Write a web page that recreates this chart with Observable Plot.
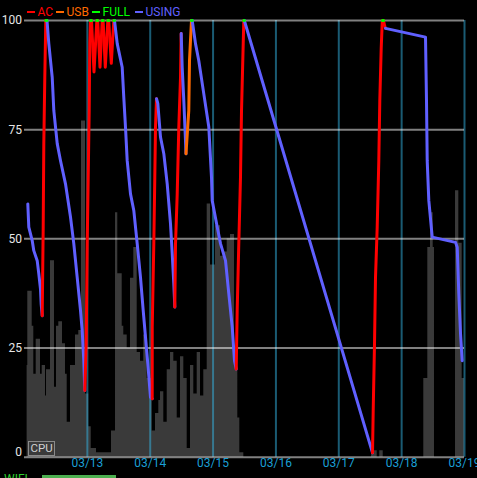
<!DOCTYPE html>
<html><head><meta charset="utf-8">
<script src="https://cdn.jsdelivr.net/npm/d3@7"></script>
<script src="https://cdn.jsdelivr.net/npm/@observablehq/plot@0.6"></script>
<style>
html,body{margin:0;padding:0;background:#000;overflow:hidden;}
#wrap{position:relative;width:477px;height:478px;overflow:hidden;}
.dash{position:absolute;height:2px;width:8px;top:11px;}
#cpu{position:absolute;left:28px;top:441px;width:27px;height:15px;border:1px solid #8a8a8a;color:#d0d0d0;font:11.5px Roboto;line-height:13px;text-align:center;box-sizing:border-box;}
#wifi{position:absolute;left:4px;top:472px;color:#2fd02f;font:12px Roboto;line-height:14px;}
#wifibar{position:absolute;left:42px;top:475px;width:74px;height:5px;background:#4caf50;}
</style></head><body><div id="wrap"></div>
<script>
// ---- data ----
// time in hours since 03/12 00:00
const cpuHour = [1.0,1.26,2.94,3.55,4.47,6.11,6.76,8.02,8.40,9.93,11.45,12.22,13.10,14.51,15.65,16.30,17.56,19.47,20.73,21.76,23.29,24.55,25.47,27.49,
  33.22,34.75,35.62,37.30,37.91,39.21,40.47,41.73,43.03,44.29,45.55,46.85,48.76,50.02,51.28,51.93,53.19,54.49,55.75,57.01,58.31,59.57,60.83,62.12,63.38,64.64,65.94,67.20,68.46,69.76,71.02,72.93,74.84,76.10,77.40,78.66,80.18,81.44,82.21,83.74,
  132.5,134.67,135.66,136.96,152.46,153.99,155.02,156.05,156.54,164.57,165.83,167.12,168];
const cpuLoad = [21,38,30,19,27,19,21,14,20,45,16,30,31,26,19,8,21,28,29,77,14.5,7,2,1,
  6,56,42,30,28,25,41,48,24,22,28,18,6,10,13,15,8,20,24,22,9,23,18,2,21,14.5,24,14,20,58,44,53,46,47,50,51,23,9,1,0,
  1.5,0,1.5,0,18,48,56,48,0,61,49,18,18];

const batteryHour = [
  1.26,1.64,2.94,3.55,4.85,5.46,6.11,6.38,
  6.76,7.14,7.37,7.75,
  8.13,
  8.59,9.28,10.58,11.19,12.49,13.75,15.65,17.56,18.82,20.12,21.38,22.03,22.64,
  23.02,23.56,23.94,24.32,24.70,24.93,
  25.20, 25.58,26.54, 27.61, 27.95,28.83, 29.67, 30.01,30.85, 31.81, 32.15,33.14, 34.10,
  34.36,35.40,37.30,37.91,38.56,39.21,40.47,41.73,43.03,44.29,45.32,46.20,47.08,48.11,
  48.76,48.77,49.37,49.75,50.02,
  50.40,50.90,51.93,53.19,54.49,55.75,56.40,57.01,
  57.39,57.66,58.31,58.92,59.57,
  59.83,60.21,60.82,61.47,
  61.66,62.73,63.00,
  63.76,
  64.03,65.29,66.55,68.46,70.37,71.40,71.67,73.58,74.84,76.75,78.01,79.31,80.18,
  80.83,81.21,81.82,82.47,82.86,83.51,
  83.74,
  83.93,
  132.88,133.14,133.64,134.02,134.67,135.28,135.66,136.20,136.58,
  136.69,
  137.08,137.5,
  137.84,153.11,153.49,153.76,154.37,155.67,164.57,165.22,165.83,166.48,167.12];
const batteryLevel = [
  58,52.7,49.6,47.3,45,42,38.5,35,
  32.4,52.7,71.8,87,
  100,
  100,94.7,87,79.4,71.8,67.9,62.6,55,48.9,41.2,33.6,29,22.1,
  15.3,26,48.9,64.1,79.4,94.7,
  100, 100,88.2, 100, 100,89.3, 100, 100,89.3, 100, 100,90.2, 100,
  100,94.7,89.3,82.4,75.6,67.9,60.3,56.5,48.9,41.2,33.6,27.5,21.4,13.7,
  13.4,29.8,48.9,64.1,75.6,
  82.1,81,73.3,69.5,62.6,53.4,46.6,39.7,
  34.4,48.9,60.3,75.6,87,
  97,89.3,81.7,72.5,
  69.5,79.4,90.8,
  100,
  100,94.7,90.8,83.2,75.6,64.1,58.8,52.7,48.9,45,37.4,29.8,22.1,
  20.2,33.6,48.9,64.1,79.4,94.7,
  100,
  100,
  1,10.7,26,41.2,52.7,67.9,81.7,93.7,99.5,
  100,
  100,98.8,
  98.2,96.2,81.7,67.9,58.8,50.4,49.2,48.1,37.4,28.3,22.1];
// state of the segment that starts at each point: U=USING A=AC B=USB F=FULL
const batteryState = (
  "UUUUUUUU AAAA F UUUUUUUUUUUUU AAAAAA F AA F AA F AA F AA F UUUUUUUUUUUUUU AAAAA UUUUUUUU AAAAA UUUU BBB F " +
  "UUUUUUUUUUUUU AAAAAA F U AAAAAAAAA F AA UUUUUUUUUUU").replace(/ /g, "").split("");

const stateNames = {A: "AC", B: "USB", F: "FULL", U: "USING"};
const legendLabels = ["AC", "USB", "FULL", "USING"];
const legendColors = ["#ff0000", "#ff6a00", "#00ff00", "#6060ff"];
const yTicks = [0, 25, 50, 75, 100];
const xTickDays = [13, 14, 15, 16, 17, 18, 19];

// ---- build ----
const start = new Date(2014, 2, 12);
const end = new Date(2014, 2, 19);
const toDate = h => new Date(start.getTime() + h * 3600e3);
const xTicks = xTickDays.map(d => new Date(2014, 2, d));

const cpuRows = cpuHour.map((h, i) => ({t: toDate(h), v: cpuLoad[i]}));

const lineRows = [];
let run = 0;
for (let i = 0; i < batteryHour.length - 1; i++) {
  const s = batteryState[i];
  if (i > 0 && s !== batteryState[i - 1]) run++;
  lineRows.push({t: toDate(batteryHour[i]), v: batteryLevel[i], s: stateNames[s], run});
  if (i === batteryHour.length - 2 || batteryState[i + 1] !== s) {
    lineRows.push({t: toDate(batteryHour[i + 1]), v: batteryLevel[i + 1], s: stateNames[s], run});
  }
}
const fullRows = lineRows.filter(r => r.s === "FULL");
const otherRows = lineRows.filter(r => r.s !== "FULL");

const fmt = d3.timeFormat("%m/%d");
const legendX = [37, 66, 102, 145];
const dashX = [27, 56, 92, 135];

const chart = Plot.plot({
  width: 477, height: 474,
  marginTop: 20, marginBottom: 17.3, marginLeft: 24, marginRight: 13,
  style: {background: "#000", fontFamily: "Roboto", fontSize: "12px", color: "#e0e0e0"},
  x: {type: "time", domain: [start, end], axis: null},
  y: {domain: [0, 100], axis: null},
  color: {domain: legendLabels, range: legendColors},
  marks: [
    Plot.areaY(cpuRows, {x: "t", y: "v", curve: "step-after", fill: "#3a3a3a"}),
    Plot.ruleX(xTicks, {x: d => d, stroke: "#33b5e5", strokeOpacity: 0.5, strokeWidth: 2}),
    Plot.ruleY(yTicks, {y: d => d, stroke: "#ffffff", strokeOpacity: 0.5, strokeWidth: 2}),
    Plot.line(otherRows, {x: "t", y: "v", z: "run", stroke: "s", strokeWidth: 3, strokeLinejoin: "round", strokeLinecap: "round"}),
    Plot.line(fullRows, {x: "t", y: "v", z: "run", stroke: "s", strokeWidth: 3, strokeLinejoin: "round", strokeLinecap: "round"}),
    Plot.text(xTicks, {x: d => d, text: d => fmt(d), frameAnchor: "bottom", dy: 9.5, fill: "#1a9fd5", fontSize: 12}),
    Plot.text(yTicks.filter(d => d > 0), {y: d => d, text: d => String(d), frameAnchor: "left", dx: -2.5, textAnchor: "end", fill: "#e6e6e6", fontSize: 12}),
    Plot.text(yTicks.filter(d => d === 0), {y: d => d, text: d => String(d), frameAnchor: "left", dx: -2.5, dy: -5, textAnchor: "end", fill: "#e6e6e6", fontSize: 12}),
    ...legendLabels.map((l, i) => Plot.text([l], {text: d => d, frameAnchor: "top-left", dx: legendX[i] - 24, dy: -5, lineAnchor: "bottom", textAnchor: "start", fill: legendColors[i], fontSize: 12}))
  ]
});

const wrap = document.getElementById("wrap");
wrap.appendChild(chart);
legendColors.forEach((c, i) => {
  const d = document.createElement("div");
  d.className = "dash"; d.style.left = dashX[i] + "px"; d.style.background = c;
  wrap.appendChild(d);
});
const cpu = document.createElement("div"); cpu.id = "cpu"; cpu.textContent = "CPU"; wrap.appendChild(cpu);
const wifi = document.createElement("div"); wifi.id = "wifi"; wifi.textContent = "WIFI"; wrap.appendChild(wifi);
const wb = document.createElement("div"); wb.id = "wifibar"; wrap.appendChild(wb);
</script></body></html>
